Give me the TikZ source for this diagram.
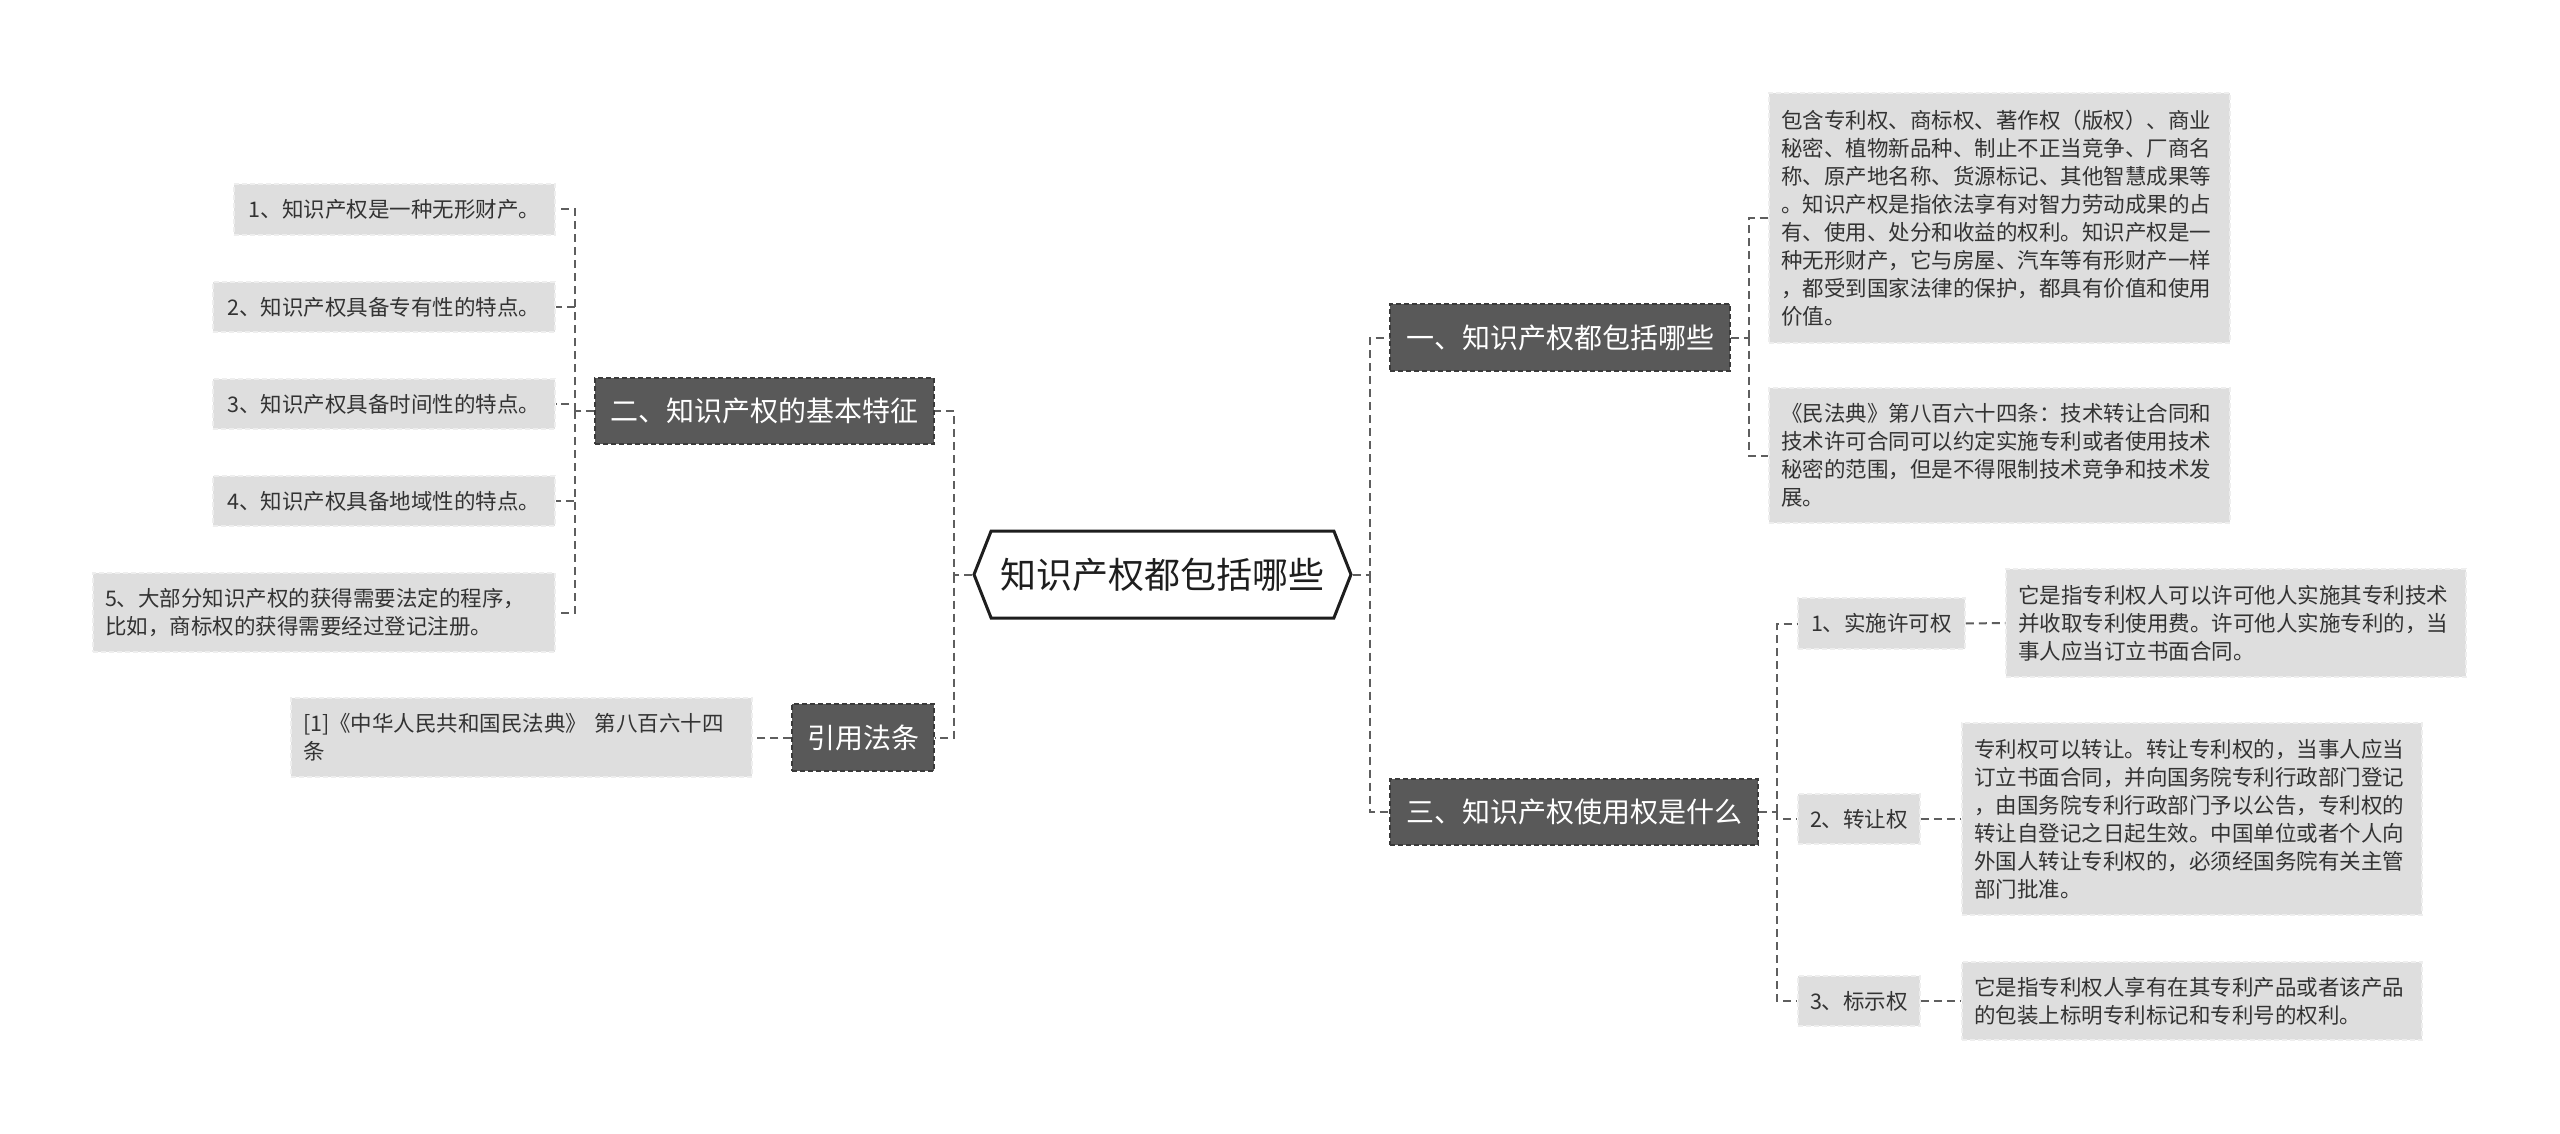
\documentclass[tikz,border=0pt]{standalone}
\usepackage{fontspec}
\setmainfont{Noto Sans CJK SC}
\usetikzlibrary{shapes.symbols}
\definecolor{ink}{HTML}{1E1E1E}
\definecolor{ink2}{HTML}{333333}
\definecolor{wire}{HTML}{5E5E5E}
\definecolor{dark}{HTML}{595959}
\definecolor{darkedge}{HTML}{3A3A3A}
\definecolor{leaf}{HTML}{DEDEDE}
\definecolor{leafedge}{HTML}{EEEEEE}
\tikzset{
  link/.style={draw=wire,line width=2pt,dash pattern=on 8pt off 5pt},
  topic/.style={signal,signal to=west and east,signal pointer angle=137,draw=ink,fill=white,line width=3pt,inner sep=0pt,font=\fontsize{36}{40}\selectfont,text=ink},
  sub/.style={draw=darkedge,fill=dark,line width=1.5pt,dash pattern=on 5pt off 3pt,inner sep=0pt,text=white,font=\fontsize{28}{32}\selectfont},
  item/.style={draw=leafedge,fill=leaf,line width=1.5pt,dash pattern=on 5pt off 3pt,inner sep=0pt,text=ink2,font=\fontsize{21.5}{28}\selectfont},
  note/.style={item,align=left,inner xsep=12pt},
}
\begin{document}
\begin{tikzpicture}[x=1pt,y=-1pt]
  \fill[white] (0,0) rectangle (2560,1134);
  \useasboundingbox (0,0) rectangle (2560,1134);
  % centre
  \node[topic,minimum width=377pt,minimum height=87pt] (root) at (1162.5,574.5) {知识产权都包括哪些};
  % left branches
  \node[sub,minimum width=339pt,minimum height=66pt] (feat) at (764.5,411) {二、知识产权的基本特征};
  \node[sub,minimum width=142pt,minimum height=67pt] (cite) at (863,737.5) {引用法条};
  \node[item,minimum width=321pt,minimum height=51pt] (f1) at (394.5,209.5) {1、知识产权是一种无形财产。};
  \node[item,minimum width=342pt,minimum height=50pt] (f2) at (384,307) {2、知识产权具备专有性的特点。};
  \node[item,minimum width=342pt,minimum height=50pt] (f3) at (384,404) {3、知识产权具备时间性的特点。};
  \node[item,minimum width=342pt,minimum height=50pt] (f4) at (384,501) {4、知识产权具备地域性的特点。};
  \node[note,text width=438pt,minimum height=79pt] (f5) at (324,612.5) {5、大部分知识产权的获得需要法定的程序，\\比如，商标权的获得需要经过登记注册。};
  \node[note,text width=437pt,minimum height=79pt] (ref) at (521.5,737.5) {[1]《中华人民共和国民法典》 第八百六十四\\条};
  % right branches
  \node[sub,minimum width=340pt,minimum height=67pt] (scope) at (1560,337.5) {一、知识产权都包括哪些};
  \node[sub,minimum width=368pt,minimum height=66pt] (use) at (1574,812) {三、知识产权使用权是什么};
  \node[note,text width=437pt,minimum height=250pt] (s1) at (1999.5,218) {包含专利权、商标权、著作权（版权）、商业\\秘密、植物新品种、制止不正当竞争、厂商名\\称、原产地名称、货源标记、其他智慧成果等\\。知识产权是指依法享有对智力劳动成果的占\\有、使用、处分和收益的权利。知识产权是一\\种无形财产，它与房屋、汽车等有形财产一样\\，都受到国家法律的保护，都具有价值和使用\\价值。};
  \node[note,text width=437pt,minimum height=135pt] (s2) at (1999.5,455.5) {《民法典》第八百六十四条：技术转让合同和\\技术许可合同可以约定实施专利或者使用技术\\秘密的范围，但是不得限制技术竞争和技术发\\展。};
  \node[item,minimum width=167pt,minimum height=51pt] (u1) at (1881.5,623.5) {1、实施许可权};
  \node[item,minimum width=122pt,minimum height=50pt] (u2) at (1859,819) {2、转让权};
  \node[item,minimum width=122pt,minimum height=50pt] (u3) at (1859,1001) {3、标示权};
  \node[note,text width=436pt,minimum height=108pt] (v1) at (2236,623) {它是指专利权人可以许可他人实施其专利技术\\并收取专利使用费。许可他人实施专利的，当\\事人应当订立书面合同。};
  \node[note,text width=436pt,minimum height=192pt] (v2) at (2192,819) {专利权可以转让。转让专利权的，当事人应当\\订立书面合同，并向国务院专利行政部门登记\\，由国务院专利行政部门予以公告，专利权的\\转让自登记之日起生效。中国单位或者个人向\\外国人转让专利权的，必须经国务院有关主管\\部门批准。};
  \node[note,text width=436pt,minimum height=78pt] (v3) at (2192,1001) {它是指专利权人享有在其专利产品或者该产品\\的包装上标明专利标记和专利号的权利。};
  % connectors
  \coordinate (jl) at (954,574.5);
  \coordinate (jf) at (575,411);
  \coordinate (jr) at (1370,574.5);
  \coordinate (js) at (1749,337.5);
  \coordinate (ju) at (1777,812);
  \draw[link] (root.west) -- (jl) |- (feat.east);
  \draw[link] (jl) |- (cite.east);
  \draw[link] (feat.west) -- (jf);
  \foreach \n in {f1,f2,f3,f4,f5} \draw[link] (jf) |- (\n.east);
  \draw[link] (cite.west) -- (ref.east);
  \draw[link] (root.east) -- (jr) |- (scope.west);
  \draw[link] (jr) |- (use.west);
  \draw[link] (scope.east) -- (js);
  \foreach \n in {s1,s2} \draw[link] (js) |- (\n.west);
  \draw[link] (use.east) -- (ju);
  \foreach \n in {u1,u2,u3} \draw[link] (ju) |- (\n.west);
  \foreach \a/\b in {u1/v1,u2/v2,u3/v3} \draw[link] (\a.east) -- (\b.west);
\end{tikzpicture}
\end{document}
